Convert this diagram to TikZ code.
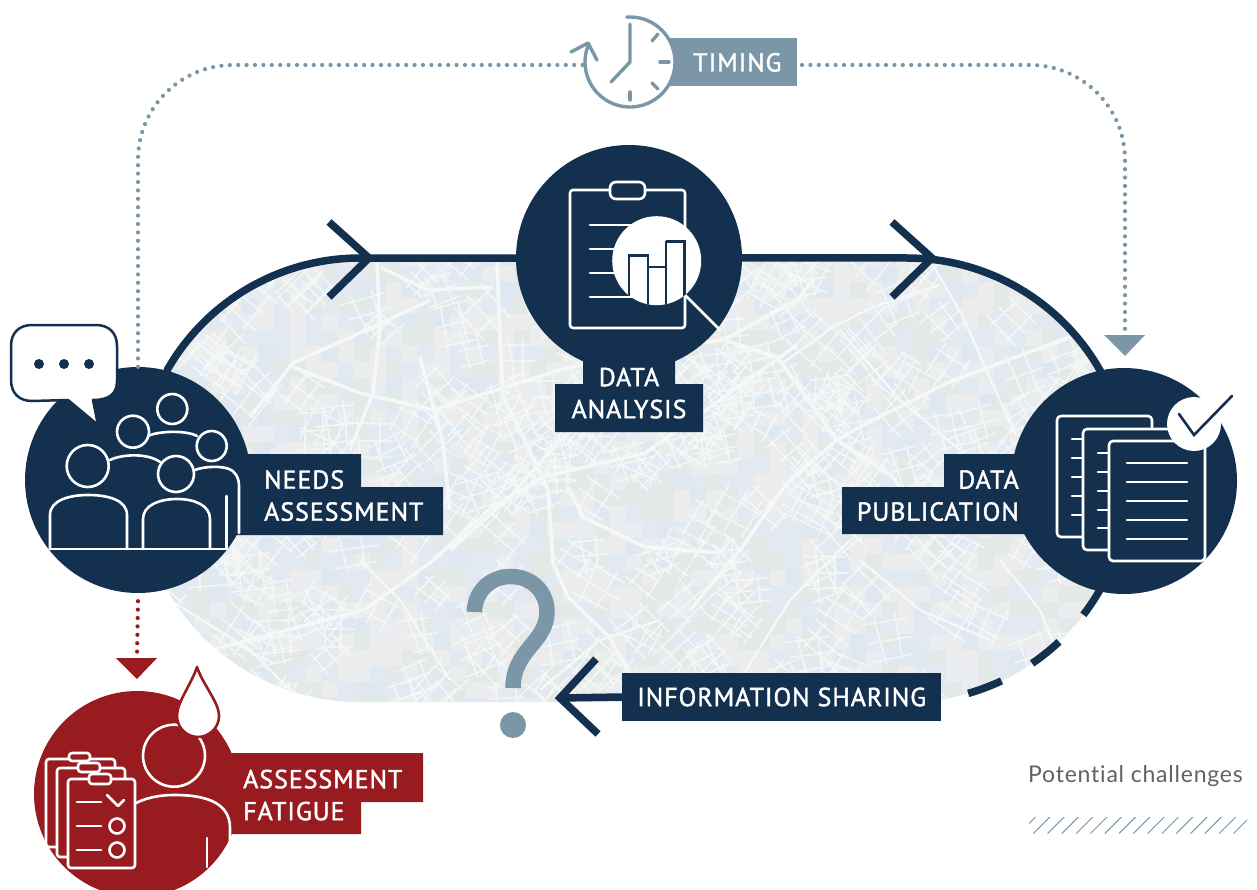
\documentclass[tikz,border=0pt]{standalone}
\usepackage{fontspec}
\setmainfont{PT Sans}
\newfontfamily\lab[LetterSpace=3.6,FakeBold=1.5]{PT Sans}
\newfontfamily\leg[LetterSpace=3.4,Ligatures=NoCommon]{Lato}
\definecolor{navy}{HTML}{13304F}
\definecolor{wine}{HTML}{981C1F}
\definecolor{slate}{HTML}{7B96A6}
\definecolor{tilea}{HTML}{E3E9F1}
\definecolor{tileb}{HTML}{ECECEC}
\definecolor{tilec}{HTML}{E3E9E7}
\definecolor{tiled}{HTML}{E9ECF1}
\definecolor{tilee}{HTML}{DFE7F0}
\definecolor{road}{HTML}{F4F8F7}
\pgfdeclarelayer{bg}
\pgfsetlayers{bg,main}
\tikzset{
  hub/.style={circle,minimum size=226pt,inner sep=0,fill=navy},
  labeltext/.style={font=\lab\fontsize{26}{32}\selectfont,text=white,inner sep=0,align=left},
  ring/.style={draw=navy,line width=7.5pt},
  dots/.style={line width=4.2pt,line cap=round,dash pattern=on 0pt off 8.4pt},
  chev/.style={draw=navy,line width=7.5pt,miter limit=10},
  ico/.style={draw=white,line width=2.6pt,line cap=round,line join=round},
  mainroad/.style={draw=road,line width=3.6pt,line join=round},
  minorroad/.style={draw=road,line width=2.4pt,line join=round},
}
\begin{document}
\begin{tikzpicture}[x=1pt,y=-1pt]
\useasboundingbox (0,0) rectangle (1257,890);
% hubs
\node[hub] (needs) at (138,480) {};
\node[hub] (analysis) at (629,258) {};
\node[hub] (publication) at (1124,481) {};
\node[circle,minimum size=206pt,inner sep=0,fill=wine] (fatigue) at (137,794) {};
\coordinate (timingL) at (583,65);
\coordinate (timingR) at (802,65);
\coordinate (corner) at (1125,65);
\coordinate (cornerL) at (138,65);
\coordinate (pubtip) at (1125,332);
\coordinate (fattip) at (137,656);
\coordinate (qtip) at (560,698);
\begin{pgfonlayer}{bg}
\begin{scope}
\clip plot[domain=90:270,samples=60,variable=\t] ({360+222*cos(\t)},{480+222*sin(\t)})
   -- plot[domain=-90:90,samples=60,variable=\t] ({907+222*cos(\t)},{480+222*sin(\t)}) -- cycle;
\fill[tileb] (130,250) rectangle (1135,710);
\pgfmathsetseed{4242}
\foreach \ix in {0,...,62}{\foreach \iy in {0,...,28}{
  \pgfmathrandominteger{\tc}{1}{8}
  \ifcase\tc\or\def\tn{tilea}\or\def\tn{tileb}\or\def\tn{tilec}\or\def\tn{tiled}\or\def\tn{tilee}\or\def\tn{tilea}\or\def\tn{tilec}\or\def\tn{tileb}\fi
  \fill[\tn] ({130+16*\ix},{250+16*\iy}) rectangle ++(16.5,16.5);
}}
% small street grids
\foreach \i in {1,...,330}{
  \pgfmathsetmacro{\xx}{130+rnd*1000}
  \pgfmathsetmacro{\yy}{255+rnd*450}
  \pgfmathrandominteger{\sel}{0}{2}
  \pgfmathsetmacro{\ang}{(\sel==0?-38:(\sel==1?52:12))+rnd*24-12}
  \pgfmathsetmacro{\ga}{11+rnd*9}
  \pgfmathsetmacro{\gb}{13+rnd*11}
  \pgfmathsetmacro{\sk}{rnd*8-4}
  \begin{scope}[shift={(\xx,\yy)},rotate=\ang]
  \draw[road,line width=1.6pt,opacity=.92]
    (-\gb-\sk,-\ga) -- (\gb,-\ga+\sk) (-\gb,0) -- (\gb+\sk,\sk) (-\gb+\sk,\ga) -- (\gb-\sk,\ga)
    (-\gb*.5,-\ga-4) -- (-\gb*.5+\sk,\ga+4) (\gb*.5,-\ga-4) -- (\gb*.5-\sk,\ga+4);
  \end{scope}
}
% main roads
\draw[mainroad] (211,650) -- (364,610) -- (430,563) -- (492,507) -- (543,477) -- (645,453) -- (720,400) -- (797,345);
\draw[mainroad] (250,417) -- (293,363) -- (373,327) -- (430,300);
\draw[mainroad] (377,263) -- (380,327) -- (373,393) -- (350,450);
\draw[mainroad] (497,263) -- (500,333) -- (503,397) -- (523,437) -- (548,490) -- (553,563) -- (568,597) -- (609,637) -- (640,690);
\draw[mainroad] (293,367) -- (360,393) -- (433,410) -- (560,370) -- (640,350) -- (723,340) -- (797,300) -- (813,280);
\draw[mainroad] (380,267) -- (427,290) -- (493,287);
\draw[mainroad] (420,357) -- (443,443) -- (450,510);
\draw[mainroad] (450,550) -- (510,497) -- (560,440) -- (590,415);
\draw[mainroad] (568,487) -- (583,517) -- (645,547) -- (721,553);
\draw[mainroad] (690,610) -- (740,550) -- (787,483) -- (837,440) -- (860,427) -- (947,383) -- (1080,333);
\draw[mainroad] (723,340) -- (777,357) -- (837,440) -- (893,477) -- (930,530);
\draw[minorroad] (783,363) -- (833,327) -- (873,307) -- (940,285);
\draw[minorroad] (933,265) -- (963,317) -- (1013,430);
\draw[minorroad] (840,330) -- (900,400) -- (960,450);
\draw[minorroad] (170,600) -- (250,650) -- (300,700);
\draw[minorroad] (860,560) -- (920,610) -- (990,640);
\draw[minorroad] (740,680) -- (790,600) -- (850,540);
\draw[minorroad] (1000,560) -- (1040,610) -- (1060,660);
\draw[minorroad] (540,690) -- (600,640) -- (660,620);
\draw[minorroad] (450,680) -- (400,600) -- (360,560);
\end{scope}
% ring
\draw[ring] (needs.center) -- plot[domain=210:270,samples=40,variable=\t] ({360+222*cos(\t)},{480+222*sin(\t)}) -- (analysis.center);
\draw[ring] (analysis.center) -- plot[domain=270:332,samples=40,variable=\t] ({907+222*cos(\t)},{480+222*sin(\t)}) -- (publication.center);
\draw[ring] (publication.center) -- plot[domain=28:37.4,samples=8,variable=\t] ({907+222*cos(\t)},{480+222*sin(\t)});
\draw[ring] plot[domain=46.8:55.7,samples=8,variable=\t] ({907+222*cos(\t)},{480+222*sin(\t)});
\draw[ring] plot[domain=64.8:74,samples=8,variable=\t] ({907+222*cos(\t)},{480+222*sin(\t)});
\end{pgfonlayer}
% chevrons
\draw[chev] (329,222) -- (369,258) -- (329,297);
\draw[chev] (892,222) -- (932,258) -- (892,297);
% dotted connectors
\draw[slate,dots,rounded corners=95pt] (needs.north) -- (cornerL) -- (timingL);
\draw[slate,dots,rounded corners=95pt] (timingR) -- (corner) -- (pubtip);
\draw[wine,dots] (needs.south) ++(0,8) -- (fattip);
\fill[slate] (1104,335) -- (1145,335) -- (1125,356) -- cycle;
\fill[wine] (116,658) -- (157,658) -- (137,679) -- cycle;
% label boxes
\fill[navy] (236,454) -- (361,454) -- (361,487) -- (443,487) -- (443,535) -- (236,535) -- cycle;
\fill[navy] (583,355) -- (675,355) -- (675,384) -- (703,384) -- (703,432) -- (555,432) -- (555,384) -- (583,384) -- cycle;
\fill[navy] (1035,454) -- (944,454) -- (944,487) -- (842,487) -- (842,534) -- (1035,534) -- cycle;
\fill[wine] (225,753) -- (423,753) -- (423,802) -- (361,802) -- (361,834) -- (225,834) -- cycle;
\fill[slate] (660,38) -- (797,38) -- (797,86) -- (660,86) -- cycle;
\node[labeltext,anchor=north west] (needslabel) at (264,470) {NEEDS\\ASSESSMENT};
\node[labeltext,anchor=north,align=center] (analysislabel) at (629,367.5) {DATA\\ANALYSIS};
\node[labeltext,anchor=north east,align=right] (publabel) at (1019,470) {DATA\\PUBLICATION};
\node[labeltext,anchor=north west] (fatiguelabel) at (243,769.5) {ASSESSMENT\\FATIGUE};
\node[fill=navy,minimum width=319pt,minimum height=48pt,inner sep=0,anchor=west,font=\lab\fontsize{26}{33}\selectfont,text=white] (info) at (622,697) {INFORMATION SHARING};
\draw[chev] (info.west) -- (qtip);
\draw[chev] (596,659) -- (560,698) -- (598,734);
% question mark
\draw[slate,line width=15.5pt] (474.5,612) .. controls (474.5,592) and (490,576.5) .. (510.5,576.5) .. controls (532,576.5) and (547,592) .. (547,612) .. controls (547,642) and (513,650) .. (513,688);
\node[circle,fill=slate,minimum size=26pt,inner sep=0] (qdot) at (513,725) {};
% legend
\node[anchor=base west,inner sep=0,text=black!62,font=\leg\fontsize{23}{26}\selectfont] (legend) at (1028,782) {Potential challenges};
\begin{scope}
\clip (1029,817) rectangle (1247,834);
\foreach \n in {0,...,16}{\draw[slate,line width=1pt] ({1019+14.3*\n},833.5) -- ++(17,-17);}
\end{scope}
% timing clock
\node[circle,fill=white,minimum size=90pt,inner sep=0] (clock) at (630,62) {};
\node[font=\lab\fontsize{26}{33}\selectfont,text=white,inner sep=0,anchor=base west] (timing) at (693,71.5) {TIMING};
\begin{scope}[slate,line width=3.4pt,line cap=round,line join=round]
\draw plot[domain=-94:204,samples=70,variable=\t] ({630+45*cos(\t)},{62+45*sin(\t)});
\draw (571,52) -- (588,43) -- (597,60);
\draw (630,24) -- (630,62) -- (611,82);
\draw (652,41) -- (658,34);
\draw (660,62) -- (669,62);
\draw (652,83) -- (658,89);
\draw (630,92) -- (630,100);
\end{scope}
% needs icon
\begin{scope}[ico]
\draw (172.3,409) circle[radius=15];
\draw (133,431.7) circle[radius=16];
\draw (211.7,446) circle[radius=15];
\draw (87.7,466) circle[radius=21];
\draw (176,474) circle[radius=18];
\draw (148,436) .. controls (158,431) and (186,430) .. (197,436);
\draw (110,460) .. controls (122,454) and (148,453) .. (160,462);
\draw (195,470) .. controls (205,466) and (222,466) .. (229,469) .. controls (236,472) and (239,478) .. (239,486) -- (239,533);
\draw (226.7,496) -- (226.7,548);
\draw (50,549) -- (227,549);
\draw (50,549) -- (50,515) .. controls (50,500) and (70,495) .. (88,495) .. controls (108,495) and (127,500) .. (127,515) -- (127,549);
\draw (143,549) -- (143,519) .. controls (143,505) and (160,499) .. (177,499) .. controls (194,499) and (210,505) .. (210,519) -- (210,549);
\end{scope}
\draw[navy,line width=2.5pt,fill=white,line join=round] (32,325) -- (96,325) .. controls (109,325) and (117,333) .. (117,346) -- (117,381) .. controls (117,394) and (109,400) .. (93,400) -- (98,425) -- (68,400) -- (32,401) .. controls (19,401) and (11,393) .. (11,380) -- (11,346) .. controls (11,333) and (19,325) .. (32,325) -- cycle;
\fill[navy] (39,364) circle[radius=5] (64,364) circle[radius=5] (89,364) circle[radius=5];
% analysis icon
\draw[ico,rounded corners=3pt] (570,190) rectangle (685,328);
\draw[ico,fill=navy,rounded corners=6pt] (610,182) rectangle (645,199);
\foreach \yy in {225,249,273,297}{\draw[ico] (590,\yy) -- (640,\yy);}
\draw[draw=white,line width=2.6pt,line cap=round] (685,295) -- (720,330);
\fill[white] (656.7,260.7) circle[radius=44.5];
\begin{scope}
\clip (656.7,260.7) circle[radius=44.5];
\draw[navy,line width=2.6pt] (629,310) -- (629,255.5) -- (648,255.5) -- (648,310);
\draw[navy,line width=2.6pt] (648,267) -- (666,267) -- (666,310);
\draw[navy,line width=2.6pt] (666,241.5) -- (684.5,241.5) -- (684.5,310);
\draw[navy,line width=2.6pt] (666,310) -- (666,241.5);
\end{scope}
% publication icon
\draw[ico,fill=navy,rounded corners=4pt] (1057,416) rectangle (1152,537);
\foreach \yy in {439,458,477,496,515}{\draw[ico] (1072,\yy) -- (1083,\yy);}
\draw[ico,fill=navy,rounded corners=4pt] (1083,429) rectangle (1178,550);
\foreach \yy in {453,472,491,510,528}{\draw[ico] (1098,\yy) -- (1109,\yy);}
\draw[ico,fill=navy,rounded corners=4pt] (1109,441) rectangle (1205,561);
\foreach \yy in {463,482,501,520,539}{\draw[ico] (1127,\yy) -- (1187,\yy);}
\fill[white] (1194,424) circle[radius=27];
\draw[navy,line width=2.6pt,line join=miter,line cap=round] (1179,414) -- (1194,435) -- (1232,396);
% fatigue icon
\draw[ico] (174,755.7) circle[radius=31];
\draw[wine,line width=2.6pt,fill=white,line join=round] (197,667) .. controls (203,685) and (219,702) .. (219,716) .. controls (219,728) and (209,737) .. (198,737) .. controls (187,737) and (177,728) .. (177,716) .. controls (177,702) and (191,685) .. (197,667) -- cycle;
\begin{scope}[ico]
\draw (136,803) .. controls (150,796) and (165,795) .. (175,795) .. controls (210,795) and (230,805) .. (230,828) -- (230,845);
\draw (207,838) -- (207,867);
\draw[fill=wine,rounded corners=3pt] (46,759) rectangle (115,847);
\draw[fill=wine,rounded corners=3pt] (69,753) rectangle (90,761);
\draw[fill=wine,rounded corners=3pt] (57,768) rectangle (125,857);
\draw[fill=wine,rounded corners=3pt] (78,763) rectangle (100,772);
\draw[fill=wine,rounded corners=3pt] (68,779) rectangle (135,868);
\draw[fill=wine,rounded corners=3pt] (89,774) rectangle (111,784);
\draw (77,802) -- (101,802);
\draw (77,826) -- (101,826);
\draw (77,850) -- (101,850);
\draw (107,795) -- (118,806) -- (124,800);
\draw (117,826) circle[radius=7.5];
\draw (117,850) circle[radius=7.5];
\end{scope}
\end{tikzpicture}
\end{document}
